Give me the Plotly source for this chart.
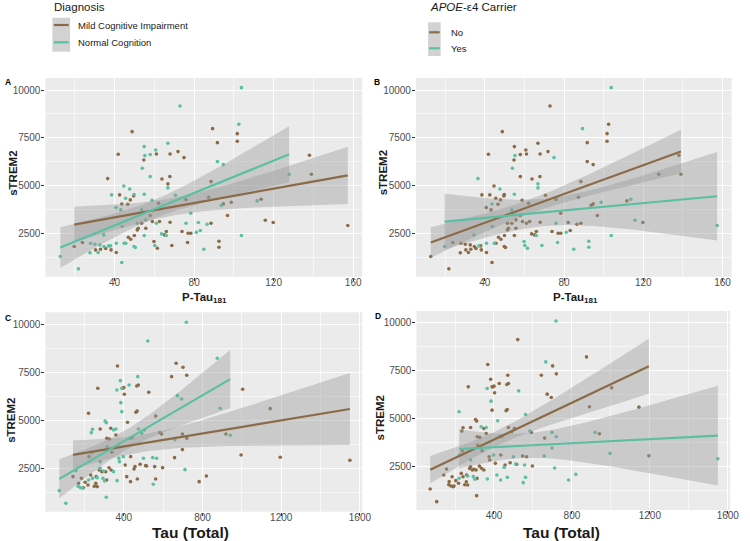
import numpy as np
import plotly.graph_objects as go

W, H = 750, 541

# ---------------- data ----------------
# Top panels (A, B): P-Tau181 vs sTREM2
ptau = [12.7, 21.8, 19.7, 23.8, 27.9, 27.6, 30.1, 30.4, 32.6, 31.7, 32.9, 34.7, 34.5, 35.5, 37.0, 37.9,
        38.2, 36.5, 38.5, 40.8, 40.8, 40.7, 41.8, 42.5, 43.1, 43.8, 43.6, 43.6, 44.6, 45.5, 44.8, 45.6,
        46.6, 47.6, 46.9, 48.1, 47.9, 48.8, 49.6, 49.8, 49.9, 49.8, 50.4, 51.4, 51.4, 51.9, 53.6, 53.6,
        53.9, 54.9, 54.7, 54.9, 55.2, 54.9, 55.7, 55.7, 57.9, 57.9, 57.9, 58.8, 59.0, 59.8, 60.2, 60.7,
        61.0, 61.0, 61.5, 62.1, 62.6, 63.8, 63.6, 65.1, 66.0, 66.0, 66.8, 66.8, 66.8, 67.9, 67.8, 67.9,
        68.8, 70.6, 71.9, 72.9, 73.9, 74.9, 75.9, 75.9, 77.0, 76.7, 78.3, 78.3, 81.1, 82.1, 83.1, 84.9,
        103.8, 102.5, 89.3, 91.7, 101.7, 101.7, 91.7, 94.7, 88.5, 87.3, 93.7, 94.7, 98.7, 96.8, 86.5, 88.5,
        92.5, 92.5, 103.8, 111.7, 113.7, 115.8, 119.8, 127.8, 138.0, 139.0, 157.3]
strem2_top = [1285, 640, 1808, 2017, 1982, 1477, 1930, 1633, 1895, 1494, 1668, 1808, 2418, 1703, 1843, 1843,
              1633, 5364, 4510, 1494, 1982, 3847, 6636, 4510, 3725, 2854, 971, 4038, 4980, 4336, 1982, 1982,
              4022, 4823, 2296, 2191, 4249, 7821, 4458, 4527, 2383, 1808, 1756, 2680, 3028, 2767, 3028, 3725,
              5904, 7037, 6340, 4545, 6567, 2383, 2767, 3202, 6619, 5468, 3429, 4232, 3115, 2069, 1860, 6863,
              6654, 3028, 1721, 4074, 3115, 5346, 2470, 2418, 2383, 2592, 7211, 5085, 4876, 6654, 5468, 3080,
              1860, 4493, 6776, 9163, 2592, 6462, 3028, 4267, 2505, 2017, 2505, 3551, 2557, 3063, 2644, 1668,
              10122, 8205, 7978, 7246, 7717, 7316, 6253, 6096, 5207, 4388, 3969, 4039, 4126, 3429, 2976, 3028,
              2087, 1773, 2383, 4197, 4284, 3185, 3063, 5590, 6584, 5590, 2906]
# Diagnosis: M = Mild Cognitive Impairment, N = Normal Cognition
dx_top = list("NNMMNNNMNN" "MNNMNNMMNM" "NNMMNNNMNN" "NNMNMMMMMN" "MNNMNMMNNN" "MNNNMNNNMN"
              "MMNNMNMMMM" "NMNMNMNMMM" "MNMNMMNMMM" "MNNNNNNNMM" "MMNNMMNMMM" "NMMMNNMMMN" "MMM")
# APOE-e4 carrier: Y = Yes, N = No
apoe_top = list("NNYNNNNNNN" "NNYNYNNYNN" "YNNNNYNYNN" "YNNYNNNNNN" "NNNNNNNYYN" "NYYNNNNNNN"
                "NYYNNNYNNN" "NNYNNYYNNN" "YNNNNYYNNY" "NNYNNYYNYN" "NNNNNNNNYN" "NNYYYNYYNN" "NNY")

# Bottom panels (C, D): Tau (Total) vs sTREM2
tau = [72.5, 106, 142, 157, 170, 179, 191, 204, 218, 221, 223, 238, 221, 235, 241, 260, 265, 268, 265, 280,
       280, 280, 289, 294, 302, 305, 311, 311, 314, 316, 327, 334, 336, 339, 348, 348, 360, 360, 366, 368,
       365, 375, 378, 383, 385, 390, 395, 390, 400, 403, 398, 407, 415, 419, 427, 430, 434, 435, 441, 452,
       457, 462, 468, 466, 471, 474, 469, 474, 483, 491, 500, 505, 511, 516, 522, 527, 550, 547, 557, 562,
       562, 567, 584, 592, 597, 658, 666, 643, 673, 718, 701, 720, 694, 875, 1004, 890, 1144, 698, 720, 660,
       919, 941, 698, 711, 996, 1195, 1549, 820, 783,
       185, 195, 232, 241, 258, 275, 297, 308, 313, 325, 168, 250]
strem2_bot = [1337, 677, 2066, 2379, 1720, 1494, 1459, 1772, 1633, 1893, 3108, 3316, 5365, 4358, 4532, 2066,
              1546, 6667, 2014, 4549, 2847, 2500, 2327, 1980, 1841, 4966, 4879, 990, 4063, 3629, 4028, 4584,
              2414, 3334, 4497, 2327, 4236, 4549, 1858, 7830, 6580, 3021, 2847, 7066, 5920, 6667, 6667, 5452,
              6702, 6354, 3108, 2674, 2066, 4896, 6840, 4063, 1806, 3108, 4097, 2466, 2587, 5417, 5487, 6788,
              7274, 6840, 1945, 4549, 2709, 4323, 3021, 4497, 2639, 2622, 9132, 6458, 1667, 3056, 2587, 1945,
              5226, 3021, 4358, 4288, 2535, 3056, 7969, 7274, 6285, 10104, 7761, 7344, 6111, 8229, 6615, 5625,
              5608, 4289, 4063, 3993, 4289, 4219, 3473, 2431, 3195, 3073, 2917, 2101, 1806,
              1976, 1490, 2150, 1976, 1716, 2411, 2359, 2324, 1890, 2532, 1560, 1560]
dx_bot = list("NNMNMNNMMN" "MNMNNMMMNM" "NNMNNNNNMN" "MMMMNNMNNM" "NNNNNNMNMM" "NMMMNNMMMM"
              "MMMMNMMNMN" "NNMMNMNNMM" "MNMMMMMMNN" "MMNNMNMMMN" "MNMNMMMMM" "MMMNMMNMMMNM")
apoe_bot = list("NNNNNNNNNY" "YNYNNNNNYN" "YNNYYNNNNN" "NYNNNNNYYN" "YNNNYNNNNN" "YNYYNNYNNY"
                "NNNNNNYNNN" "YNYNNYYNYY" "YNYNNYYNNY" "NNNNNNNYYN" "YNYYYNYYY" "NNNNNNNNNNNN")

BROWN = "#8B6B47"
TEAL = "#5BBFA2"


def fit_band(x, y, n=80):
    x = np.asarray(x, float)
    y = np.asarray(y, float)
    b1, b0 = np.polyfit(x, y, 1)
    xs = np.linspace(x.min(), x.max(), n)
    yhat = b0 + b1 * xs
    resid = y - (b0 + b1 * x)
    dof = len(x) - 2
    s = np.sqrt((resid ** 2).sum() / dof)
    sxx = ((x - x.mean()) ** 2).sum()
    se = s * np.sqrt(1.0 / len(x) + (xs - x.mean()) ** 2 / sxx)
    z = 1.959964
    t = z + (z ** 3 + z) / (4 * dof) + (5 * z ** 5 + 16 * z ** 3 + 3 * z) / (96 * dof ** 2)
    return xs, yhat, yhat - t * se, yhat + t * se


fig = go.Figure()


def add_panel(k, xv, yv, groups, order):
    xa, ya = (f"x{k}", f"y{k}") if k > 1 else ("x", "y")
    xv = np.asarray(xv, float)
    yv = np.asarray(yv, float)
    g = np.asarray(groups)
    for code, col in order:
        m = g == code
        fig.add_trace(go.Scatter(x=xv[m], y=yv[m], mode="markers", xaxis=xa, yaxis=ya,
                                 marker=dict(size=3.6, color=col), showlegend=False, hoverinfo="skip"))
    fits = []
    for code, col in order:
        m = g == code
        fits.append((fit_band(xv[m], yv[m]), col))
    for (xs, yh, lo, hi), col in fits:
        fig.add_trace(go.Scatter(x=np.concatenate([xs, xs[::-1]]), y=np.concatenate([hi, lo[::-1]]),
                                 mode="lines", fill="toself", fillcolor="rgba(153,153,153,0.4)",
                                 line=dict(width=0), xaxis=xa, yaxis=ya, showlegend=False, hoverinfo="skip"))
    for (xs, yh, lo, hi), col in fits:
        fig.add_trace(go.Scatter(x=xs, y=yh, mode="lines", line=dict(color=col, width=2.2),
                                 xaxis=xa, yaxis=ya, showlegend=False, hoverinfo="skip"))


add_panel(1, ptau, strem2_top, dx_top, [("M", BROWN), ("N", TEAL)])
add_panel(2, ptau, strem2_top, apoe_top, [("N", BROWN), ("Y", TEAL)])
add_panel(3, tau, strem2_bot, dx_bot, [("M", BROWN), ("N", TEAL)])
add_panel(4, tau, strem2_bot, apoe_bot, [("N", BROWN), ("Y", TEAL)])


def px(xp):
    return xp / W


def py(yp):
    return 1 - yp / H


tickfont = dict(family="Liberation Sans, Arial", size=10, color="#4D4D4D")


def xaxis(dom, rng, tv, minor):
    return dict(domain=[px(dom[0]), px(dom[1])], range=rng, tickvals=tv, ticktext=[str(v) for v in tv],
                showgrid=True, gridcolor="white", gridwidth=1.1, zeroline=False, showline=False,
                ticks="outside", ticklen=3, tickcolor="#333333", tickwidth=1, tickfont=tickfont,
                ticklabelstandoff=-7,
                minor=dict(tickvals=minor, showgrid=True, gridcolor="#F7F7F7", gridwidth=0.6, ticks=""),
                fixedrange=True)


def yaxis(dom, rng, anchor):
    tv = [2500, 5000, 7500, 10000]
    return dict(domain=[py(dom[1]), py(dom[0])], range=rng, tickvals=tv, ticktext=[str(v) for v in tv],
                showgrid=True, gridcolor="white", gridwidth=1.1, zeroline=False, showline=False,
                ticks="outside", ticklen=3, tickcolor="#333333", tickwidth=1, tickfont=tickfont,
                ticklabelstandoff=-1,
                minor=dict(tickvals=[1250, 3750, 6250, 8750], showgrid=True, gridcolor="#F7F7F7",
                           gridwidth=0.6, ticks=""),
                anchor=anchor, fixedrange=True)


ptv, pminor = [40, 80, 120, 160], [20, 60, 100, 140]
ttv, tminor = [400, 800, 1200, 1600], [200, 600, 1000, 1400]

fig.update_layout(
    xaxis=dict(**xaxis((46, 366.7), [5.2, 164.6], ptv, pminor), anchor="y"),
    yaxis=yaxis((78, 276.7), [230, 10628], "x"),
    xaxis2=dict(**xaxis((421, 740.5), [5.2, 164.6], ptv, pminor), anchor="y2"),
    yaxis2=yaxis((78, 276.7), [230, 10628], "x2"),
    xaxis3=dict(**xaxis((46, 366.7), [2, 1612], ttv, tminor), anchor="y3"),
    yaxis3=yaxis((312.3, 511.7), [240, 10625], "x3"),
    xaxis4=dict(**xaxis((421.5, 739), [2, 1612], ttv, tminor), anchor="y4"),
    yaxis4=yaxis((311, 510), [240, 10625], "x4"),
)

shapes = []
for dom_x, dom_y in [((46, 366.7), (78, 276.7)), ((421, 740.5), (78, 276.7)),
                     ((46, 366.7), (312.3, 511.7)), ((421.5, 739), (311, 510))]:
    shapes.append(dict(type="rect", xref="paper", yref="paper", layer="below",
                       x0=px(dom_x[0]), x1=px(dom_x[1]), y0=py(dom_y[1]), y1=py(dom_y[0]),
                       fillcolor="#EBEBEB", line=dict(width=0)))

# legend keys
shapes.append(dict(type="rect", xref="paper", yref="paper", x0=px(53), x1=px(71), y0=py(51.7), y1=py(17.7),
                   fillcolor="#D2D2D2", line=dict(width=0)))
shapes.append(dict(type="rect", xref="paper", yref="paper", x0=px(433.3), x1=px(446), y0=py(56), y1=py(22.3),
                   fillcolor="#D2D2D2", line=dict(width=0)))
for x0, x1, yy, col in [(54.5, 69.5, 25, BROWN), (54.5, 69.5, 42.3, TEAL),
                        (434.3, 445, 32.3, BROWN), (434.3, 445, 48.3, TEAL)]:
    shapes.append(dict(type="line", xref="paper", yref="paper", x0=px(x0), x1=px(x1), y0=py(yy), y1=py(yy),
                       line=dict(color=col, width=2.2)))

font = "Liberation Sans, Arial"
ann = []


def text(x, y, s, size, color="#1A1A1A", xanchor="left", angle=0):
    ann.append(dict(x=px(x), y=py(y), xref="paper", yref="paper", text=s, showarrow=False,
                    xanchor=xanchor, yanchor="middle", textangle=angle,
                    font=dict(family=font, size=size, color=color)))


text(53, 7.5, "Diagnosis", 11.5)
text(76.5, 25, "Mild Cognitive Impairment", 9.5)
text(76.5, 42.5, "Normal Cognition", 9.5)
text(433, 7.5, "<i>APOE</i>-\u03b54 Carrier", 11.5)
text(454.5, 32.5, "No", 9.5)
text(454.5, 48.5, "Yes", 9.5)

for lab, x, y in [("A", 3, 82), ("B", 377, 82), ("C", 3, 318), ("D", 378, 315.5)]:
    text(x, y, f"<b>{lab}</b>", 8.5, color="#000000")

text(13, 173, "<b>sTREM2</b>", 11.5, xanchor="center", angle=-90)
text(388, 173, "<b>sTREM2</b>", 11.5, xanchor="center", angle=-90)
text(11, 420, "<b>sTREM2</b>", 11.5, xanchor="center", angle=-90)
text(385, 418, "<b>sTREM2</b>", 11.5, xanchor="center", angle=-90)
text(207, 298, "<b>P-Tau<sub>181</sub></b>", 11.5, xanchor="center")
text(582, 298, "<b>P-Tau<sub>181</sub></b>", 11.5, xanchor="center")
text(193, 532.5, "<b>Tau (Total)</b>", 15.5, xanchor="center")
text(568, 532.5, "<b>Tau (Total)</b>", 15.5, xanchor="center")

fig.update_layout(width=W, height=H, margin=dict(l=0, r=0, t=0, b=0), paper_bgcolor="white",
                  plot_bgcolor="rgba(0,0,0,0)", shapes=shapes, annotations=ann, showlegend=False,
                  font=dict(family=font))

fig.write_html("out.html", config={"displayModeBar": False},
               post_script="document.body.style.margin='0';")
